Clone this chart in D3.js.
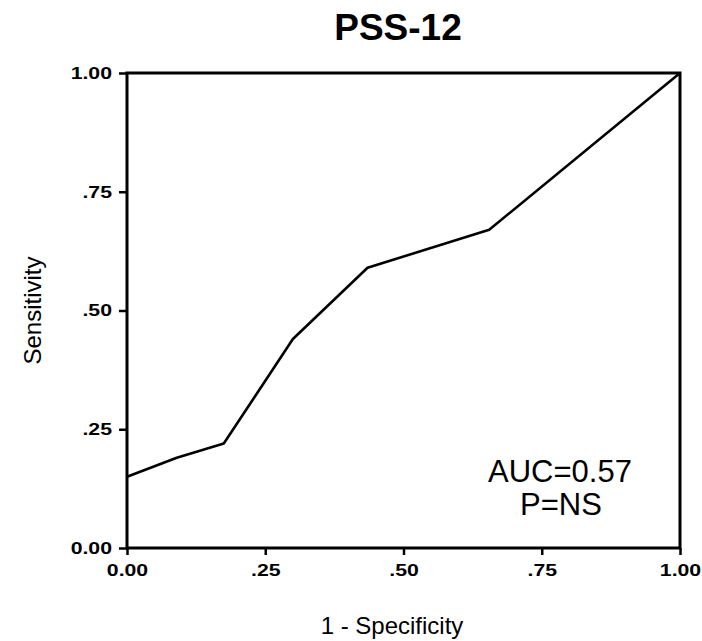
<!DOCTYPE html>
<html>
<head>
<meta charset="utf-8">
<script src="https://cdn.jsdelivr.net/npm/d3@7"></script>
<style>
  body { margin: 0; background: #fff; }
  svg { display: block; font-family: "Liberation Sans", Arial, sans-serif; }
</style>
</head>
<body>
<script>
// ROC curve data
const fpr = [0, 0.09, 0.175, 0.30, 0.435, 0.655, 1];
const tpr = [0.15, 0.19, 0.22, 0.44, 0.59, 0.67, 1];
const tickValues = [0, 0.25, 0.5, 0.75, 1];
const tickLabels = ["0.00", ".25", ".50", ".75", "1.00"];

const width = 702, height = 641;
const margin = {top: 73, right: 22, bottom: 93, left: 127};

const svg = d3.select("body").append("svg")
  .attr("width", width)
  .attr("height", height);

const x = d3.scaleLinear().domain([0, 1]).range([margin.left, width - margin.right]);
const y = d3.scaleLinear().domain([0, 1]).range([height - margin.bottom, margin.top]);

// frame
svg.append("rect")
  .attr("x", x(0)).attr("y", y(1))
  .attr("width", x(1) - x(0)).attr("height", y(0) - y(1))
  .attr("fill", "none").attr("stroke", "#000").attr("stroke-width", 3);

const fmt = d => tickLabels[tickValues.indexOf(d)];

// axes
const xAxis = svg.append("g")
  .attr("transform", `translate(0,${y(0)})`)
  .call(d3.axisBottom(x).tickValues(tickValues).tickFormat(fmt).tickSize(7).tickPadding(9));
const yAxis = svg.append("g")
  .attr("transform", `translate(${x(0)},0)`)
  .call(d3.axisLeft(y).tickValues(tickValues).tickFormat(fmt).tickSize(8).tickPadding(7));

[xAxis, yAxis].forEach(g => {
  g.select(".domain").remove();
  g.selectAll(".tick line").attr("stroke", "#000").attr("stroke-width", 2.5);
  g.selectAll(".tick text")
    .attr("fill", "#000")
    .style("font-size", "17px")
    .style("font-weight", "bold")
    .style("font-family", "'Liberation Sans', Arial, sans-serif");
});
// the scanned labels are wide, stretch them a bit
xAxis.selectAll(".tick text").attr("transform", "scale(1.25,1)");
yAxis.selectAll(".tick text")
  .attr("x", 0)
  .attr("transform", "translate(-15,0) scale(1.25,1)");

// curve
const pts = fpr.map((f, i) => [f, tpr[i]]);
svg.append("path")
  .datum(pts)
  .attr("fill", "none")
  .attr("stroke", "#000")
  .attr("stroke-width", 2.6)
  .attr("stroke-linejoin", "round")
  .attr("d", d3.line().x(d => x(d[0])).y(d => y(d[1])));

// title
svg.append("text")
  .attr("x", 398).attr("y", 40)
  .attr("text-anchor", "middle")
  .style("font-size", "37px").style("font-weight", "bold")
  .text("PSS-12");

// axis titles
svg.append("text")
  .attr("x", 392).attr("y", 634)
  .attr("text-anchor", "middle")
  .style("font-size", "24px")
  .text("1 - Specificity");

svg.append("text")
  .attr("transform", `translate(41,${(y(0) + y(1)) / 2}) rotate(-90)`)
  .attr("text-anchor", "middle")
  .style("font-size", "24px")
  .text("Sensitivity");

// annotation
svg.append("text")
  .attr("x", 560).attr("y", 482)
  .attr("text-anchor", "middle")
  .style("font-size", "31px")
  .text("AUC=0.57");
svg.append("text")
  .attr("x", 561).attr("y", 515)
  .attr("text-anchor", "middle")
  .style("font-size", "31px")
  .text("P=NS");
</script>
</body>
</html>
